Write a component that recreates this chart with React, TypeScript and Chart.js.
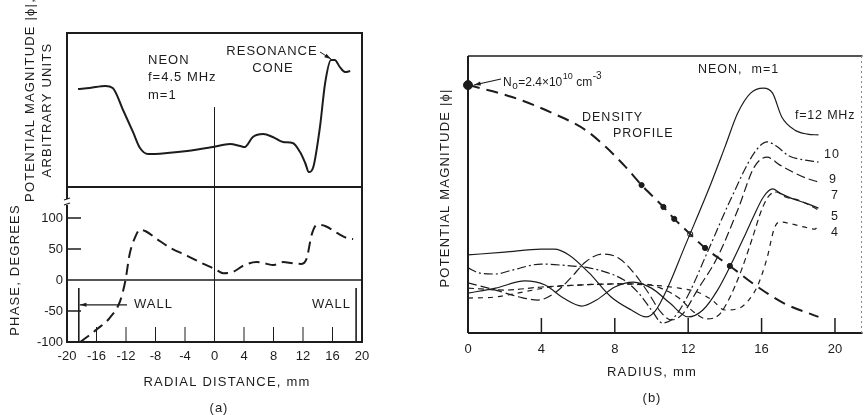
import React, { useEffect, useRef } from "react";
import { Chart, registerables } from "chart.js";
Chart.register(...registerables);

// ---------------- (a) data ----------------
const MAG_X = [-18.5, -16.9, -14.8, -13.8, -12.4, -11.0, -10.1, -9.0, -6.4, -3.7, -0.2, 2.1, 3.5, 4.1, 5.2, 6.6, 7.9, 9.3, 10.6, 11.6, 12.3, 12.8, 13.4, 14.3, 15.0, 15.8, 16.3, 17.0, 17.7, 18.4];
const MAG_Y = [6.36, 6.43, 6.56, 6.43, 5.0, 3.51, 2.53, 2.14, 2.21, 2.34, 2.6, 2.79, 2.66, 2.6, 3.25, 3.44, 3.25, 2.92, 2.86, 2.27, 1.56, 0.97, 1.3, 3.9, 6.75, 8.25, 8.25, 7.79, 7.47, 7.53];
const PHASE_X = [-18.2, -15.9, -14.2, -12.8, -12.1, -11.5, -10.8, -10.1, -9.4, -7.8, -6.0, -3.7, -1.5, 0, 1.2, 2.5, 3.9, 5.7, 7.1, 7.9, 9.3, 10.6, 11.8, 12.5, 13.2, 13.9, 15.0, 16.6, 17.9, 18.8];
const PHASE_Y = [-100, -79, -61, -34, -2, 42, 68, 81, 79, 66, 52, 39, 26, 18, 11, 13, 23, 29, 26, 24, 29, 27, 26, 35, 74, 89, 87, 76, 68, 66];
const RADIAL_TICKS = [-20, -16, -12, -8, -4, 0, 4, 8, 12, 16, 20];
const PHASE_TICKS = [-100, -50, 0, 50, 100];
const WALL_X = [-18.4, 19.2];

// ---------------- (b) data ----------------
const RADIUS_TICKS = [0, 4, 8, 12, 16, 20];
const DENS_R = [0, 2.4, 4.6, 6.4, 7.5, 8.6, 9.46, 10.65, 11.24, 12.11, 12.92, 14.27, 15.8, 17.2, 19.1];
const DENS_N = [8.95, 8.52, 7.94, 7.33, 6.72, 5.99, 5.34, 4.55, 4.12, 3.57, 3.07, 2.42, 1.66, 1.08, 0.58];
const DOT_R = [9.46, 10.65, 11.24, 12.11, 12.92, 14.27];
const DOT_N = [5.34, 4.55, 4.12, 3.57, 3.07, 2.42];
const N0_R = [0];
const N0_N = [8.95];

const F12_R = [0, 2, 4, 4.7, 5.5, 6.6, 7.8, 8.9, 9.7, 10.2, 10.9, 11.8, 13.1, 14.0, 14.7, 15.4, 16.1, 16.6, 17.1, 17.8, 18.5, 19.1];
const F12_V = [2.82, 2.92, 3.03, 3.03, 2.82, 2.17, 1.3, 0.83, 0.58, 0.79, 1.66, 3.1, 5.16, 6.71, 7.94, 8.66, 8.84, 8.66, 7.8, 7.33, 7.18, 7.15];
const F10_R = [0, 0.6, 1.5, 2.4, 4.0, 5.1, 6.6, 7.5, 8.5, 9.3, 10.0, 10.6, 11.2, 12.0, 13.1, 14.3, 15.6, 16.3, 16.8, 17.5, 18.3, 19.1];
const F10_V = [2.35, 2.17, 2.13, 2.27, 2.49, 2.45, 2.35, 2.2, 1.91, 1.44, 0.83, 0.36, 0.54, 1.37, 3.0, 4.8, 6.5, 6.9, 6.75, 6.39, 6.25, 6.17];
const F9_R = [0, 1.5, 2.8, 3.8, 4.8, 5.6, 6.4, 7.3, 8.2, 9.0, 9.8, 10.5, 11.1, 11.7, 12.5, 13.6, 14.7, 15.6, 16.3, 17.0, 17.7, 18.4, 19.1];
const F9_V = [1.81, 1.55, 1.3, 1.19, 1.48, 1.99, 2.56, 2.85, 2.71, 2.2, 1.48, 0.76, 0.47, 0.69, 1.55, 2.74, 4.44, 5.99, 6.35, 6.06, 5.81, 5.6, 5.45];
const F7_R = [0, 1.5, 3.1, 4.2, 5.2, 6.2, 7.0, 8.0, 9.0, 10.0, 11.0, 12.0, 12.8, 13.6, 14.4, 15.1, 15.6, 16.1, 16.6, 17.0, 17.6, 18.4, 19.1];
const F7_V = [1.44, 1.62, 1.88, 1.73, 1.26, 0.97, 1.19, 1.66, 1.84, 1.62, 1.08, 0.58, 0.83, 1.55, 2.56, 3.54, 4.26, 4.91, 5.2, 5.05, 4.87, 4.69, 4.51];
const F5_R = [0, 2, 4, 6, 8, 9.5, 10.5, 11.5, 12.3, 13.0, 13.6, 14.2, 14.9, 15.5, 16.0, 16.4, 16.8, 17.3, 18.0, 18.6, 19.1];
const F5_V = [1.62, 1.55, 1.66, 1.73, 1.77, 1.77, 1.62, 1.26, 0.76, 0.51, 0.61, 1.19, 2.27, 3.43, 4.44, 4.95, 5.09, 4.91, 4.8, 4.62, 4.44];
const F4_R = [0, 1.5, 3.0, 4.5, 6, 8, 10, 11.5, 12.5, 13.3, 14.0, 14.8, 15.3, 15.8, 16.3, 16.7, 17.0, 17.6, 18.3, 18.9, 19.1];
const F4_V = [1.26, 1.3, 1.48, 1.66, 1.73, 1.77, 1.73, 1.62, 1.48, 1.19, 0.83, 0.9, 1.19, 1.73, 2.71, 3.79, 4.01, 3.94, 3.83, 3.75, 3.9];

const W = 868;
const H = 415;
const INK = "#1c1c1c";
const FONT = '"Liberation Sans", Arial, sans-serif';

const pts = (xs: number[], ys: number[]) => xs.map((x, i) => ({ x, y: ys[i] }));

function text(ctx: CanvasRenderingContext2D, s: string, x: number, y: number, size = 13, align: CanvasTextAlign = "left", rot = 0, spacing = 1) {
  ctx.save();
  ctx.translate(x, y);
  if (rot) ctx.rotate(rot);
  ctx.font = `${size}px ${FONT}`;
  (ctx as any).letterSpacing = spacing + "px";
  ctx.fillStyle = INK;
  ctx.textAlign = align;
  ctx.textBaseline = "middle";
  ctx.fillText(s, 0, 0);
  ctx.restore();
}

function line(ctx: CanvasRenderingContext2D, x1: number, y1: number, x2: number, y2: number, w = 1, dash: number[] = [], color = INK) {
  ctx.save();
  ctx.strokeStyle = color;
  ctx.lineWidth = w;
  ctx.setLineDash(dash);
  ctx.beginPath();
  ctx.moveTo(x1, y1);
  ctx.lineTo(x2, y2);
  ctx.stroke();
  ctx.restore();
}

function arrow(ctx: CanvasRenderingContext2D, x1: number, y1: number, x2: number, y2: number, w = 1.2) {
  line(ctx, x1, y1, x2, y2, w);
  const ang = Math.atan2(y2 - y1, x2 - x1);
  const L = 7;
  ctx.save();
  ctx.fillStyle = INK;
  ctx.beginPath();
  ctx.moveTo(x2, y2);
  ctx.lineTo(x2 - L * Math.cos(ang - 0.3), y2 - L * Math.sin(ang - 0.3));
  ctx.lineTo(x2 - L * Math.cos(ang + 0.3), y2 - L * Math.sin(ang + 0.3));
  ctx.closePath();
  ctx.fill();
  ctx.restore();
}

const tickFont = { family: FONT, size: 13 };
const noGrid = { display: false, drawTicks: false, tickLength: 0 };

function lineDs(data: any[], dash: number[], width: number) {
  return {
    data,
    borderColor: INK,
    borderWidth: width,
    borderDash: dash,
    pointRadius: 0,
    fill: false,
    cubicInterpolationMode: "monotone" as const,
  };
}

export default function App() {
  const r1 = useRef<HTMLCanvasElement>(null);
  const r2 = useRef<HTMLCanvasElement>(null);
  const r3 = useRef<HTMLCanvasElement>(null);

  useEffect(() => {
    // ---------- (a) top: magnitude ----------
    const magChart = new Chart(r1.current!, {
      type: "line",
      data: { datasets: [lineDs(pts(MAG_X, MAG_Y), [], 2)] },
      options: {
        animation: false,
        responsive: false,
        devicePixelRatio: 1,
        layout: { padding: { left: 67, top: 33, right: W - 362, bottom: H - 187 } },
        plugins: { legend: { display: false }, tooltip: { enabled: false } },
        scales: {
          x: { type: "linear", min: -20, max: 20, display: false },
          y: { type: "linear", min: 0, max: 10, display: false },
        },
      },
      plugins: [
        {
          id: "magDeco",
          afterDraw(chart: any) {
            const { ctx, chartArea: a, scales } = chart;
            const x0 = scales.x.getPixelForValue(0);
            ctx.save();
            ctx.strokeStyle = INK;
            ctx.lineWidth = 2;
            ctx.beginPath();
            ctx.moveTo(a.left, a.bottom);
            ctx.lineTo(a.left, a.top);
            ctx.lineTo(a.right, a.top);
            ctx.lineTo(a.right, a.bottom);
            ctx.stroke();
            ctx.restore();
            line(ctx, a.left, a.bottom, a.right, a.bottom, 2);
            line(ctx, x0, 107, x0, a.bottom, 1);
            text(ctx, "NEON", 148, 60, 13);
            text(ctx, "f=4.5 MHz", 148, 77, 13);
            text(ctx, "m=1", 148, 95, 13);
            text(ctx, "RESONANCE", 272, 51, 13, "center");
            text(ctx, "CONE", 273, 68, 13, "center");
            arrow(ctx, 320, 52, 331, 59, 1);
            text(ctx, "POTENTIAL MAGNITUDE |ϕ|,", 30, 100, 13, "center", -Math.PI / 2, 1.2);
            text(ctx, "ARBITRARY UNITS", 47, 110, 13, "center", -Math.PI / 2, 1.2);
          },
        },
      ],
    } as any);

    // ---------- (a) bottom: phase ----------
    const phaseChart = new Chart(r2.current!, {
      type: "line",
      data: { datasets: [lineDs(pts(PHASE_X, PHASE_Y), [11, 6], 2)] },
      options: {
        animation: false,
        responsive: false,
        devicePixelRatio: 1,
        layout: { padding: { left: 17, top: 187, right: W - 362, bottom: H - 342 - 30 } },
        plugins: { legend: { display: false }, tooltip: { enabled: false } },
        scales: {
          x: {
            type: "linear",
            min: -20,
            max: 20,
            grid: noGrid,
            border: { display: false },
            afterBuildTicks: (s: any) => { s.ticks = RADIAL_TICKS.map((v) => ({ value: v })); },
            afterFit: (s: any) => { s.height = 30; },
            ticks: { font: tickFont, color: INK, padding: 7, autoSkip: false, maxRotation: 0 },
          },
          y: {
            type: "linear",
            min: -100,
            max: 150,
            grid: noGrid,
            border: { display: false },
            afterBuildTicks: (s: any) => { s.ticks = PHASE_TICKS.map((v) => ({ value: v })); },
            afterFit: (s: any) => { s.width = 50; },
            ticks: { font: tickFont, color: INK, padding: 4 },
          },
        },
      },
      plugins: [
        {
          id: "phaseDeco",
          afterDraw(chart: any) {
            const { ctx, chartArea: a, scales } = chart;
            const sx = scales.x, sy = scales.y;
            const x0 = sx.getPixelForValue(0);
            const y0 = sy.getPixelForValue(0);
            ctx.save();
            ctx.strokeStyle = INK;
            ctx.lineWidth = 2;
            ctx.beginPath();
            ctx.moveTo(a.left, a.top);
            ctx.lineTo(a.left, a.bottom);
            ctx.lineTo(a.right, a.bottom);
            ctx.lineTo(a.right, a.top);
            ctx.stroke();
            ctx.restore();
            line(ctx, a.left, y0, a.right, y0, 1.6);
            line(ctx, x0, a.top, x0, a.bottom, 1);
            // inward x ticks
            RADIAL_TICKS.forEach((v) => {
              if (v === 0 || Math.abs(v) === 20) return;
              const px = sx.getPixelForValue(v);
              line(ctx, px, a.bottom, px, a.bottom - 15, 1);
            });
            // inward y ticks
            [100, 50, -50].forEach((v) => {
              const py = sy.getPixelForValue(v);
              line(ctx, a.left, py, a.left + 14, py, 1.5);
            });
            // walls
            WALL_X.forEach((v) => {
              const px = sx.getPixelForValue(v);
              line(ctx, px, a.bottom - 54, px, a.bottom, 1.6);
            });
            const ya = sy.getPixelForValue(-40);
            arrow(ctx, 127, ya, sx.getPixelForValue(WALL_X[0]) + 1, ya, 1.3);
            text(ctx, "WALL", 134, ya, 13);
            text(ctx, "WALL", 351, ya, 13, "right");
            // axis break mark
            ctx.save();
            ctx.fillStyle = "#fff";
            ctx.fillRect(a.left - 3, a.top + 12, 6, 6);
            ctx.restore();
            line(ctx, a.left - 3, a.top + 13, a.left + 3, a.top + 11, 1.2);
            line(ctx, a.left - 3, a.top + 18, a.left + 3, a.top + 16, 1.2);
            text(ctx, "PHASE, DEGREES", 15, 270, 13, "center", -Math.PI / 2, 1.2);
            text(ctx, "RADIAL DISTANCE, mm", 227, 382, 13, "center", 0, 1.2);
            text(ctx, "(a)", 219, 408, 13, "center", 0, 1);
          },
        },
      ],
    } as any);

    // ---------- (b) ----------
    const bChart = new Chart(r3.current!, {
      type: "line",
      data: {
        datasets: [
          lineDs(pts(DENS_R, DENS_N), [12, 7], 2),
          lineDs(pts(F12_R, F12_V), [], 1.2),
          lineDs(pts(F10_R, F10_V), [9, 3, 2, 3], 1.2),
          lineDs(pts(F9_R, F9_V), [9, 4], 1.2),
          lineDs(pts(F7_R, F7_V), [], 1.2),
          lineDs(pts(F5_R, F5_V), [6, 4], 1.2),
          lineDs(pts(F4_R, F4_V), [5, 5], 1.2),
          {
            data: pts(DOT_R, DOT_N),
            showLine: false,
            pointRadius: 2.6,
            pointBorderWidth: 1,
            pointBorderColor: INK,
            pointBackgroundColor: DOT_R.map((_, i) => (i === 3 ? "#fff" : INK)),
          },
          {
            data: pts(N0_R, N0_N),
            showLine: false,
            pointRadius: 4.5,
            pointBorderColor: INK,
            pointBackgroundColor: INK,
            clip: false,
          },
        ],
      },
      options: {
        animation: false,
        responsive: false,
        devicePixelRatio: 1,
        layout: { padding: { left: 468, top: 56, right: W - 867, bottom: H - 333 - 30 } },
        plugins: { legend: { display: false }, tooltip: { enabled: false } },
        scales: {
          x: {
            type: "linear",
            min: 0,
            max: 21.5,
            grid: noGrid,
            border: { display: false },
            afterBuildTicks: (s: any) => { s.ticks = RADIUS_TICKS.map((v) => ({ value: v })); },
            afterFit: (s: any) => { s.height = 30; },
            ticks: { font: tickFont, color: INK, padding: 9, autoSkip: false, maxRotation: 0 },
          },
          y: { type: "linear", min: 0, max: 10, display: false },
        },
      },
      plugins: [
        {
          id: "bDeco",
          afterDraw(chart: any) {
            const { ctx, chartArea: a, scales } = chart;
            const sx = scales.x;
            line(ctx, a.left, a.top, a.left, a.bottom, 2);
            line(ctx, a.left, a.bottom, a.right, a.bottom, 2);
            line(ctx, a.left, a.top, a.right, a.top, 1.5);
            line(ctx, a.right - 1, a.top, a.right - 1, a.bottom, 1, [2, 3], "#888");
            RADIUS_TICKS.forEach((v) => {
              if (v === 0) return;
              const px = sx.getPixelForValue(v);
              line(ctx, px, a.bottom, px, a.bottom - 15, 1.5);
            });
            // N0 label
            arrow(ctx, 501, 79, 474, 85, 1.2);
            ctx.save();
            ctx.fillStyle = INK;
            ctx.textBaseline = "alphabetic";
            let x = 503;
            const base = 86;
            const put = (s: string, dy: number, size: number) => {
              ctx.font = `${size}px ${FONT}`;
              ctx.fillText(s, x, base + dy);
              x += ctx.measureText(s).width + 0.5;
            };
            put("N", 0, 12);
            put("o", 3, 10);
            put("=2.4×10", 0, 12);
            put("10", -7, 9);
            x += 3;
            put("cm", 0, 12);
            put("-3", -7, 10);
            ctx.restore();
            text(ctx, "NEON,  m=1", 698, 70, 12.5, "left", 0, 1);
            text(ctx, "DENSITY", 582, 118, 12.5, "left", 0, 1);
            text(ctx, "PROFILE", 613, 134, 12.5, "left", 0, 1);
            text(ctx, "f=12 MHz", 795, 116, 12.5, "left", 0, 0.8);
            text(ctx, "10", 824, 155, 12.5, "left");
            text(ctx, "9", 829, 180, 12.5, "left");
            text(ctx, "7", 831, 196, 12.5, "left");
            text(ctx, "5", 831, 217, 12.5, "left");
            text(ctx, "4", 831, 233, 12.5, "left");
            text(ctx, "POTENTIAL MAGNITUDE |ϕ|", 445, 188, 13, "center", -Math.PI / 2, 1.2);
            text(ctx, "RADIUS, mm", 652, 372, 13, "center", 0, 1.2);
            text(ctx, "(b)", 652, 398, 13, "center", 0, 1);
          },
        },
      ],
    } as any);

    return () => {
      magChart.destroy();
      phaseChart.destroy();
      bChart.destroy();
    };
  }, []);

  const cs: React.CSSProperties = { position: "absolute", left: 0, top: 0, width: W, height: H };
  return (
    <div style={{ position: "absolute", left: 0, top: 0, width: W, height: H, background: "#fff" }}>
      <canvas ref={r1} width={W} height={H} style={cs} />
      <canvas ref={r2} width={W} height={H} style={cs} />
      <canvas ref={r3} width={W} height={H} style={cs} />
    </div>
  );
}
